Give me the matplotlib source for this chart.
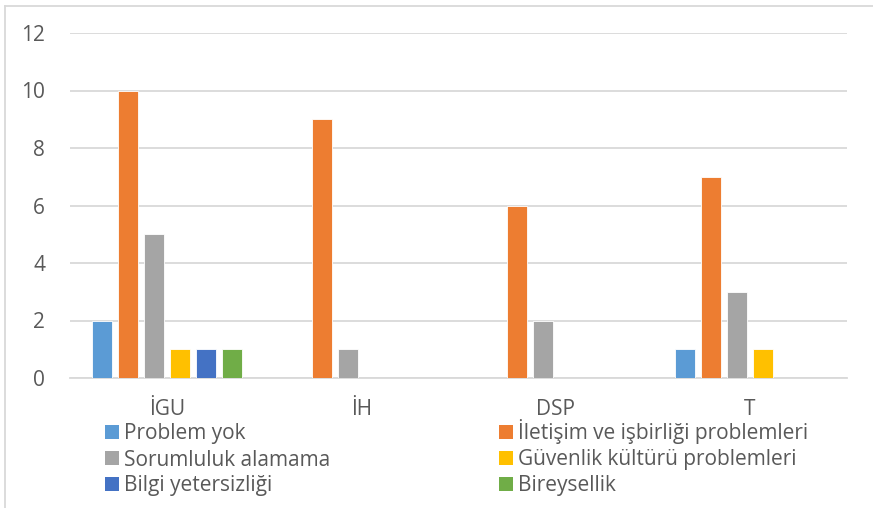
import matplotlib
matplotlib.use("Agg")
import matplotlib.pyplot as plt
from matplotlib.patches import Rectangle
from matplotlib.lines import Line2D
import numpy as np

categories = ["İGU", "İH", "DSP", "T"]
series_names = ["Problem yok", "İletişim ve işbirliği problemleri", "Sorumluluk alamama",
                "Güvenlik kültürü problemleri", "Bilgi yetersizliği", "Bireysellik"]
problem_yok = [2, 0, 0, 1]
iletisim = [10, 9, 6, 7]
sorumluluk = [5, 1, 2, 3]
guvenlik = [1, 0, 0, 1]
bilgi = [1, 0, 0, 0]
bireysellik = [1, 0, 0, 0]
yticks = [0, 2, 4, 6, 8, 10, 12]

values = [problem_yok, iletisim, sorumluluk, guvenlik, bilgi, bireysellik]
colors = ["#5B9BD5", "#ED7D31", "#A5A5A5", "#FFC000", "#4472C4", "#70AD47"]
text_color = "#595959"
grid_color = "#D9D9D9"

plt.rcParams['font.family'] = ['Open Sans', 'DejaVu Sans']
FS = 15

fig = plt.figure(figsize=(8.73, 5.08), dpi=100)
W, H = 873, 508
ax = fig.add_axes([70 / W, 1 - 378 / H, (847 - 70) / W, (378 - 33) / H])

x = np.arange(len(categories))
step = 26 / 194.25
width = 20 / 194.25
for i, (name, vals, c) in enumerate(zip(series_names, values, colors)):
    ax.bar(x + (i - 2.5) * step, vals, width=width, color=c, edgecolor="white",
           linewidth=0.6, zorder=3, label=name)

ax.set_xlim(-0.5, 3.5)
ax.set_ylim(0, 12)
ax.set_yticks(yticks)
ax.set_xticks(x)
ax.set_xticklabels(categories)
ax.yaxis.grid(True, color=grid_color, linewidth=1.3, zorder=0)
ax.set_axisbelow(True)
for s in ["left", "right", "top"]:
    ax.spines[s].set_visible(False)
ax.spines["bottom"].set_color(grid_color)
ax.spines["bottom"].set_linewidth(1.3)
ax.tick_params(axis="both", length=0, colors=text_color, labelsize=FS)
ax.tick_params(axis="y", pad=18)
ax.tick_params(axis="x", pad=15)

# legend laid out row-wise in two columns below the plot
col_x = [105, 499]
row_y = [432, 458, 484]
sq = 14
for k, (name, c) in enumerate(zip(series_names, colors)):
    cx = col_x[k % 2]
    cy = row_y[k // 2]
    fig.add_artist(Rectangle((cx / W, 1 - (cy + sq / 2) / H), sq / W, sq / H,
                             facecolor=c, edgecolor="none", transform=fig.transFigure))
    fig.text((cx + sq + 5) / W, 1 - (cy + 7.5) / H, name, fontsize=FS,
             color=text_color, ha="left", va="baseline")

# outer chart border (top and left visible)
fig.add_artist(Line2D([5 / W, 1], [1 - 6 / H, 1 - 6 / H], color=grid_color, lw=1.3,
                      transform=fig.transFigure))
fig.add_artist(Line2D([5 / W, 5 / W], [0, 1 - 6 / H], color=grid_color, lw=1.3,
                      transform=fig.transFigure))

fig.savefig("out.png", dpi=100)
